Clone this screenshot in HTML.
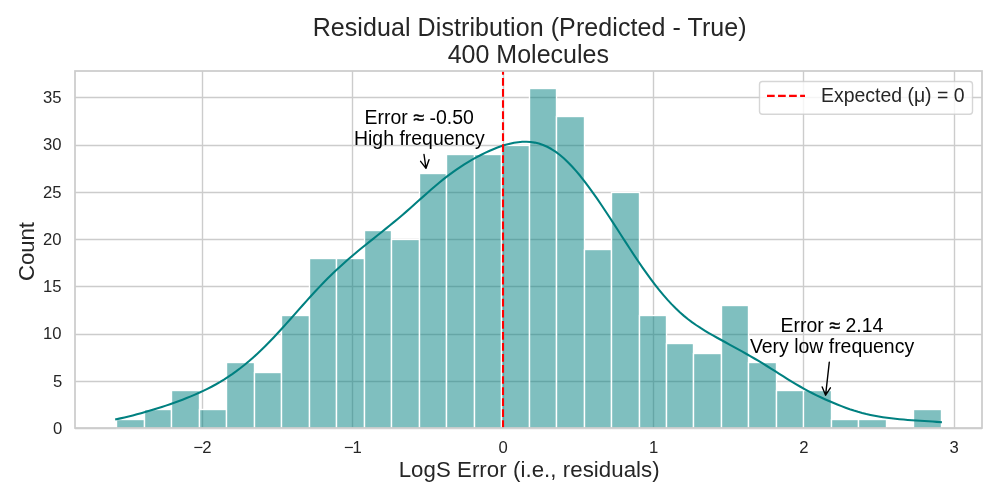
<!DOCTYPE html><html><head><meta charset="utf-8"><title>Residual Distribution</title>
<style>html,body{margin:0;padding:0;background:#fff;}body{width:1000px;height:500px;overflow:hidden;}svg{display:block;}text{font-family:"Liberation Sans", Arial, sans-serif;fill:#262626;}</style></head><body>
<svg width="1000" height="500" viewBox="0 0 1000 500">
<rect width="1000" height="500" fill="#ffffff"/>
<path d="M202.5 71.0V428.0M352.5 71.0V428.0M503.5 71.0V428.0M653.5 71.0V428.0M803.5 71.0V428.0M954.5 71.0V428.0M75.0 428.5H982.0M75.0 381.5H982.0M75.0 334.5H982.0M75.0 286.5H982.0M75.0 239.5H982.0M75.0 192.5H982.0M75.0 145.5H982.0M75.0 97.5H982.0" stroke="#cccccc" stroke-width="1.39" fill="none"/>
<g fill="#008080" fill-opacity="0.5" stroke="#ffffff" stroke-width="1.39"><rect x="116.5" y="419.5" width="28.0" height="9.0"/><rect x="144.5" y="409.5" width="27.0" height="19.0"/><rect x="171.5" y="390.5" width="28.0" height="38.0"/><rect x="199.5" y="409.5" width="27.0" height="19.0"/><rect x="226.5" y="362.5" width="28.0" height="66.0"/><rect x="254.5" y="372.5" width="27.0" height="56.0"/><rect x="281.5" y="315.5" width="28.0" height="113.0"/><rect x="309.5" y="258.5" width="27.0" height="170.0"/><rect x="336.5" y="258.5" width="28.0" height="170.0"/><rect x="364.5" y="230.5" width="27.0" height="198.0"/><rect x="391.5" y="239.5" width="28.0" height="189.0"/><rect x="419.5" y="173.5" width="27.0" height="255.0"/><rect x="446.5" y="154.5" width="28.0" height="274.0"/><rect x="474.5" y="154.5" width="27.0" height="274.0"/><rect x="501.5" y="145.5" width="28.0" height="283.0"/><rect x="529.5" y="88.5" width="27.0" height="340.0"/><rect x="556.5" y="116.5" width="28.0" height="312.0"/><rect x="584.5" y="249.5" width="27.0" height="179.0"/><rect x="611.5" y="192.5" width="28.0" height="236.0"/><rect x="639.5" y="315.5" width="27.0" height="113.0"/><rect x="666.5" y="343.5" width="27.0" height="85.0"/><rect x="693.5" y="353.5" width="28.0" height="75.0"/><rect x="721.5" y="305.5" width="27.0" height="123.0"/><rect x="748.5" y="362.5" width="28.0" height="66.0"/><rect x="776.5" y="390.5" width="27.0" height="38.0"/><rect x="803.5" y="390.5" width="28.0" height="38.0"/><rect x="831.5" y="419.5" width="27.0" height="9.0"/><rect x="858.5" y="419.5" width="28.0" height="9.0"/><rect x="913.5" y="409.5" width="28.0" height="19.0"/></g>
<polyline points="116.20,419.25 120.34,418.36 124.49,417.42 128.63,416.43 132.78,415.40 136.92,414.32 141.07,413.20 145.21,412.03 149.35,410.83 153.50,409.58 157.64,408.30 161.79,406.98 165.93,405.62 170.07,404.21 174.22,402.76 178.36,401.26 182.51,399.70 186.65,398.09 190.80,396.41 194.94,394.65 199.08,392.82 203.23,390.89 207.37,388.86 211.52,386.73 215.66,384.48 219.81,382.10 223.95,379.58 228.09,376.93 232.24,374.12 236.38,371.16 240.53,368.04 244.67,364.76 248.82,361.32 252.96,357.71 257.10,353.94 261.25,350.02 265.39,345.96 269.54,341.76 273.68,337.44 277.82,333.01 281.97,328.49 286.11,323.89 290.26,319.25 294.40,314.58 298.55,309.90 302.69,305.24 306.83,300.61 310.98,296.04 315.12,291.54 319.27,287.12 323.41,282.81 327.56,278.60 331.70,274.50 335.84,270.53 339.99,266.67 344.13,262.91 348.28,259.26 352.42,255.71 356.56,252.23 360.71,248.81 364.85,245.45 369.00,242.13 373.14,238.82 377.29,235.52 381.43,232.21 385.57,228.89 389.72,225.53 393.86,222.14 398.01,218.69 402.15,215.19 406.30,211.62 410.44,207.98 414.58,204.30 418.73,200.58 422.87,196.86 427.02,193.16 431.16,189.50 435.31,185.92 439.45,182.45 443.59,179.09 447.74,175.87 451.88,172.80 456.03,169.86 460.17,167.07 464.31,164.41 468.46,161.87 472.60,159.45 476.75,157.15 480.89,154.97 485.04,152.91 489.18,150.99 493.32,149.21 497.47,147.57 501.61,146.09 505.76,144.79 509.90,143.69 514.05,142.81 518.19,142.17 522.33,141.81 526.48,141.74 530.62,141.99 534.77,142.60 538.91,143.58 543.05,144.97 547.20,146.78 551.34,149.02 555.49,151.69 559.63,154.79 563.78,158.29 567.92,162.19 572.06,166.47 576.21,171.09 580.35,176.04 584.50,181.29 588.64,186.79 592.79,192.52 596.93,198.43 601.07,204.51 605.22,210.71 609.36,217.02 613.51,223.39 617.65,229.81 621.79,236.24 625.94,242.65 630.08,249.02 634.23,255.31 638.37,261.49 642.52,267.54 646.66,273.43 650.80,279.13 654.95,284.63 659.09,289.89 663.24,294.90 667.38,299.65 671.53,304.13 675.67,308.32 679.81,312.23 683.96,315.86 688.10,319.23 692.25,322.35 696.39,325.25 700.54,327.97 704.68,330.55 708.82,333.02 712.97,335.41 717.11,337.73 721.26,340.02 725.40,342.28 729.54,344.54 733.69,346.82 737.83,349.11 741.98,351.42 746.12,353.74 750.27,356.09 754.41,358.48 758.55,360.93 762.70,363.44 766.84,366.00 770.99,368.60 775.13,371.24 779.28,373.87 783.42,376.49 787.56,379.07 791.71,381.60 795.85,384.08 800.00,386.50 804.14,388.84 808.28,391.10 812.43,393.26 816.57,395.33 820.72,397.31 824.86,399.21 829.01,401.03 833.15,402.80 837.29,404.51 841.44,406.15 845.58,407.71 849.73,409.18 853.87,410.53 858.02,411.78 862.16,412.92 866.30,413.96 870.45,414.89 874.59,415.73 878.74,416.49 882.88,417.16 887.03,417.76 891.17,418.30 895.31,418.78 899.46,419.20 903.60,419.58 907.75,419.92 911.89,420.23 916.03,420.51 920.18,420.79 924.32,421.05 928.47,421.32 932.61,421.58 936.76,421.86 940.90,422.14" fill="none" stroke="#008080" stroke-width="2.08" stroke-linejoin="round" stroke-linecap="square"/>
<path d="M503.0 428.0V71.0" stroke="#ff0000" stroke-width="2.08" stroke-dasharray="7.71 3.33" fill="none"/>
<rect x="75.0" y="71.0" width="907.0" height="357.0" fill="none" stroke="#cccccc" stroke-width="1.74" stroke-linejoin="miter"/>
<text x="202.50" y="452.80" font-size="16.67" text-anchor="middle">−<tspan dx="-1.2">2</tspan></text>
<text x="352.85" y="452.80" font-size="16.67" text-anchor="middle">−<tspan dx="-1.2">1</tspan></text>
<text x="503.20" y="452.80" font-size="16.67" text-anchor="middle">0</text>
<text x="653.55" y="452.80" font-size="16.67" text-anchor="middle">1</text>
<text x="803.90" y="452.80" font-size="16.67" text-anchor="middle">2</text>
<text x="954.25" y="452.80" font-size="16.67" text-anchor="middle">3</text>
<text x="62.30" y="433.95" font-size="16.67" text-anchor="end">0</text>
<text x="62.30" y="386.68" font-size="16.67" text-anchor="end">5</text>
<text x="61.50" y="339.41" font-size="16.67" text-anchor="end">10</text>
<text x="61.50" y="292.14" font-size="16.67" text-anchor="end">15</text>
<text x="61.50" y="244.87" font-size="16.67" text-anchor="end">20</text>
<text x="61.50" y="197.60" font-size="16.67" text-anchor="end">25</text>
<text x="61.50" y="150.33" font-size="16.67" text-anchor="end">30</text>
<text x="61.50" y="103.06" font-size="16.67" text-anchor="end">35</text>
<text x="529.7" y="35.8" font-size="25" text-anchor="middle" letter-spacing="0.085">Residual Distribution (Predicted - True)</text>
<text x="528.3" y="63.2" font-size="25" text-anchor="middle">400 Molecules</text>
<text x="529.2" y="477" font-size="22.22" text-anchor="middle" letter-spacing="0.065">LogS Error (i.e., residuals)</text>
<text transform="translate(34,251.6) rotate(-90)" font-size="22.22" text-anchor="middle" letter-spacing="-0.1">Count</text>
<rect x="759.5" y="81.5" width="213" height="32.7" rx="3" ry="3" fill="#ffffff" fill-opacity="0.8" stroke="#cccccc" stroke-opacity="0.8" stroke-width="1.39"/>
<path d="M767 95.9H805" stroke="#ff0000" stroke-width="2.08" stroke-dasharray="7.71 3.33" fill="none"/>
<text x="821" y="101.8" font-size="19.44">Expected (μ) = 0</text>
<text x="419.2" y="124" font-size="19.44" text-anchor="middle" style="fill:#000000">Error <tspan stroke="#000" stroke-width="0.5" dx="0.3">≈</tspan> <tspan dy="1.2">-</tspan><tspan dy="-1.2">0.50</tspan></text>
<text x="419.4" y="145" font-size="19.44" text-anchor="middle" style="fill:#000000">High frequency</text>
<text x="832" y="332" font-size="19.44" text-anchor="middle" style="fill:#000000">Error <tspan stroke="#000" stroke-width="0.5" dx="0.3">≈</tspan> 2.14</text>
<text x="832" y="353" font-size="19.44" text-anchor="middle" style="fill:#000000">Very low frequency</text>
<g stroke="#000" stroke-width="1.39" fill="none" stroke-linecap="round" stroke-linejoin="round"><path d="M424 154.5L426 168.3M420.6 161.3L426 168.3L429 159.7"/><path d="M829.3 362.2L825.6 395.2M822.2 386.9L825.6 395.2L830.4 387.8"/></g>
</svg></body></html>
